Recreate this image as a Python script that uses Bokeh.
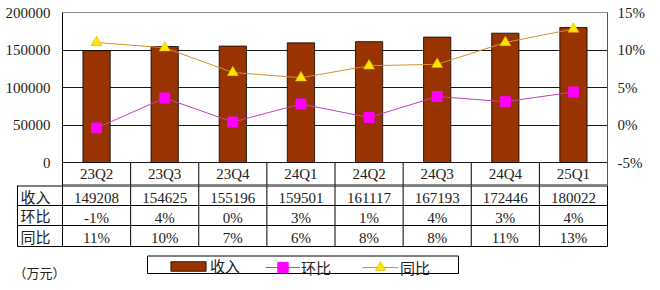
from bokeh.plotting import figure
from bokeh.layouts import column
from bokeh.models import (Range1d, LinearAxis, FixedTicker, PrintfTickFormatter,
                          NumeralTickFormatter, Legend, LegendItem)
from bokeh.core.properties import value
from bokeh.embed import file_html
from bokeh.resources import INLINE

# ---------------- data ----------------
categories = ["23Q2", "23Q3", "23Q4", "24Q1", "24Q2", "24Q3", "24Q4", "25Q1"]
revenue = [149208, 154625, 155196, 159501, 161117, 167193, 172446, 180022]
qoq = [-0.4, 3.6, 0.4, 2.8, 1.0, 3.8, 3.1, 4.4]
yoy = [11.0, 10.3, 7.0, 6.3, 7.9, 8.1, 11.0, 12.8]
qoq_labels = ["-1%", "4%", "0%", "3%", "1%", "4%", "3%", "4%"]
yoy_labels = ["11%", "10%", "7%", "6%", "8%", "8%", "11%", "13%"]
row_names = ["收入", "环比", "同比"]
legend_names = ["收入", "环比", "同比"]
left_ticks = [0, 50000, 100000, 150000, 200000]
right_ticks = [-5, 0, 5, 10, 15]
unit_label = "（万元）"

# ---------------- style / layout ----------------
W = 660
LEFT, RIGHT = 62, 53
TOP = 12
PLOT_H = 150          # pixel height of the value area
CAT_H = 23            # category header row below the value area
NUM_FONT = "Liberation Serif"
CJK_FONT = "Noto Sans CJK SC"
FS = "15px"
TXT = "#222222"
BAR_COLOR = "#993300"
QOQ_LINE = "#C040C0"
QOQ_MARK = "#FF00FF"
YOY_LINE = "#D4902C"
YOY_MARK = "#FFE600"

n = len(categories)
idx = list(range(n))
cw = (W - LEFT - RIGHT) / n


def px_to_x(px):
    return -0.5 + (px - LEFT) / cw


# ---------------- chart ----------------
lspan = left_ticks[-1] - left_ticks[0]
rspan = right_ticks[-1] - right_ticks[0]
y_lo = left_ticks[0] - CAT_H * lspan / PLOT_H
r_lo = right_ticks[0] - CAT_H * rspan / PLOT_H

p = figure(width=W, height=TOP + PLOT_H + CAT_H, x_range=Range1d(-0.5, n - 0.5),
           y_range=Range1d(y_lo, left_ticks[-1]),
           output_backend="svg", toolbar_location=None,
           min_border_left=LEFT, min_border_right=RIGHT,
           min_border_top=TOP, min_border_bottom=0)
p.extra_y_ranges = {"pct": Range1d(r_lo, right_ticks[-1])}
p.outline_line_color = "#8c8c8c"
p.background_fill_color = "white"
p.border_fill_color = "white"

p.xgrid.visible = False
p.ygrid.ticker = FixedTicker(ticks=left_ticks)
p.ygrid.grid_line_color = "#1a1a1a"
p.ygrid.grid_line_width = 1

yax = p.yaxis[0]
yax.ticker = FixedTicker(ticks=left_ticks)
yax.formatter = NumeralTickFormatter(format="0")
yax.major_tick_out = 0
yax.major_tick_in = 0
yax.minor_tick_out = 0
yax.minor_tick_in = 0
yax.axis_line_color = "black"
yax.major_label_standoff = 12
yax.major_label_text_font = NUM_FONT
yax.major_label_text_font_size = FS
yax.major_label_text_color = TXT

rax = LinearAxis(y_range_name="pct", ticker=FixedTicker(ticks=right_ticks),
                 formatter=PrintfTickFormatter(format="%d%%"))
rax.major_tick_out = 0
rax.major_tick_in = 0
rax.minor_tick_out = 0
rax.minor_tick_in = 0
rax.axis_line_color = "#555555"
rax.major_label_standoff = 10
rax.major_label_text_font = NUM_FONT
rax.major_label_text_font_size = FS
rax.major_label_text_color = TXT
p.add_layout(rax, "right")

xax = p.xaxis[0]
xax.ticker = FixedTicker(ticks=idx)
xax.major_label_overrides = {i: c for i, c in enumerate(categories)}
xax.major_tick_out = 0
xax.major_tick_in = 0
xax.minor_tick_in = 0
xax.minor_tick_out = 0
xax.axis_line_color = "black"
xax.major_label_standoff = -20
xax.major_label_text_font = NUM_FONT
xax.major_label_text_font_size = FS
xax.major_label_text_color = TXT

# category dividers in the header row
div_x = [i - 0.5 for i in range(n + 1)]
p.segment(x0=div_x, y0=[y_lo] * len(div_x), x1=div_x, y1=[left_ticks[0]] * len(div_x),
          line_color="black", line_width=1)

p.vbar(x=idx, top=revenue, width=0.4, fill_color=BAR_COLOR, line_color="black",
       line_width=0.8)
p.line(idx, qoq, y_range_name="pct", line_color=QOQ_LINE, line_width=1)
p.scatter(idx, qoq, y_range_name="pct", marker="square", size=10,
          fill_color=QOQ_MARK, line_color=QOQ_MARK)
p.line(idx, yoy, y_range_name="pct", line_color=YOY_LINE, line_width=1)
p.scatter(idx, yoy, y_range_name="pct", marker="triangle", size=11,
          fill_color=YOY_MARK, line_color="#E0B000", line_width=0.6)

# ---------------- data table + legend ----------------
TH = 290 - (TOP + PLOT_H + CAT_H)
row_lines = [0.5, 20, 40, 61]
row_mid = [(row_lines[i] + row_lines[i + 1]) / 2 for i in range(3)]

t = figure(width=W, height=TH, x_range=Range1d(-0.5, n - 0.5), y_range=Range1d(TH, 0),
           output_backend="svg", toolbar_location=None,
           min_border_left=LEFT, min_border_right=RIGHT, min_border_top=0, min_border_bottom=0,
           x_axis_location=None, y_axis_location="left")
t.grid.visible = False
t.outline_line_color = None
t.background_fill_color = "white"
t.border_fill_color = "white"

tax = t.yaxis[0]
tax.ticker = FixedTicker(ticks=row_mid)
tax.major_label_overrides = {m: s for m, s in zip(row_mid, row_names)}
tax.major_tick_out = 0
tax.major_tick_in = 0
tax.minor_tick_out = 0
tax.minor_tick_in = 0
tax.bounds = (0, row_lines[-1])
tax.axis_line_color = "black"
tax.major_label_standoff = 12
tax.major_label_text_font = CJK_FONT
tax.major_label_text_font_size = FS
tax.major_label_text_color = TXT

tab_left = px_to_x(17)
tab_right = n - 0.5
t.segment(x0=[tab_left] * 4, y0=row_lines, x1=[tab_right] * 4, y1=row_lines,
          line_color="black", line_width=1, level="overlay")
vx = [tab_left] + div_x
t.segment(x0=vx, y0=[0] * len(vx), x1=vx, y1=[row_lines[-1]] * len(vx),
          line_color="black", line_width=1, level="overlay")

for vals, ym in zip([[str(v) for v in revenue], qoq_labels, yoy_labels], row_mid):
    t.text(x=idx, y=[ym + 2] * n, text=vals, text_font=value(NUM_FONT),
           text_font_size=FS, text_baseline="middle", text_align="center",
           text_color=TXT)

t.text(x=[px_to_x(13)], y=[87], text=[unit_label], text_font=value(CJK_FONT),
       text_font_size="13px", text_baseline="middle", text_align="left",
       text_color=TXT, level="overlay")

# legend frame
t.quad(left=[px_to_x(147)], right=[px_to_x(458)], top=[70.5], bottom=[88], fill_color=None,
       line_color="black", line_width=1)

# legend proxies (off-screen)
r_bar = t.vbar(x=[-100], top=[-100], width=1, fill_color=BAR_COLOR, line_color="black",
               line_width=0.8)
r_l1 = t.line(x=[-100, -99], y=[-100, -100], line_color=QOQ_LINE, line_width=1)
r_s1 = t.scatter(x=[-100], y=[-100], marker="square", size=10,
                 fill_color=QOQ_MARK, line_color=QOQ_MARK)
r_l2 = t.line(x=[-100, -99], y=[-100, -100], line_color=YOY_LINE, line_width=1)
r_s2 = t.scatter(x=[-100], y=[-100], marker="triangle", size=11, fill_color=YOY_MARK,
                 line_color="#E0B000", line_width=0.6)


def make_legend(label, renderers, loc, gw, gh, standoff):
    lg = Legend(items=[LegendItem(label=label, renderers=renderers)], location=loc,
                glyph_width=gw, glyph_height=gh, padding=0, margin=0, spacing=0,
                label_standoff=standoff, label_height=10,
                border_line_alpha=0, background_fill_alpha=0,
                label_text_font=CJK_FONT, label_text_font_size=FS,
                label_text_color=TXT)
    t.add_layout(lg)


make_legend(legend_names[0], [r_bar], (166 - LEFT, 14), 44, 12, 0)
make_legend(legend_names[1], [r_l1, r_s1], (265 - LEFT, 10), 35, 26, 1)
make_legend(legend_names[2], [r_l2, r_s2], (362 - LEFT, 10), 36, 26, 2)

layout = column(p, t, spacing=0)
open("out.html", "w").write(file_html(layout, INLINE))
